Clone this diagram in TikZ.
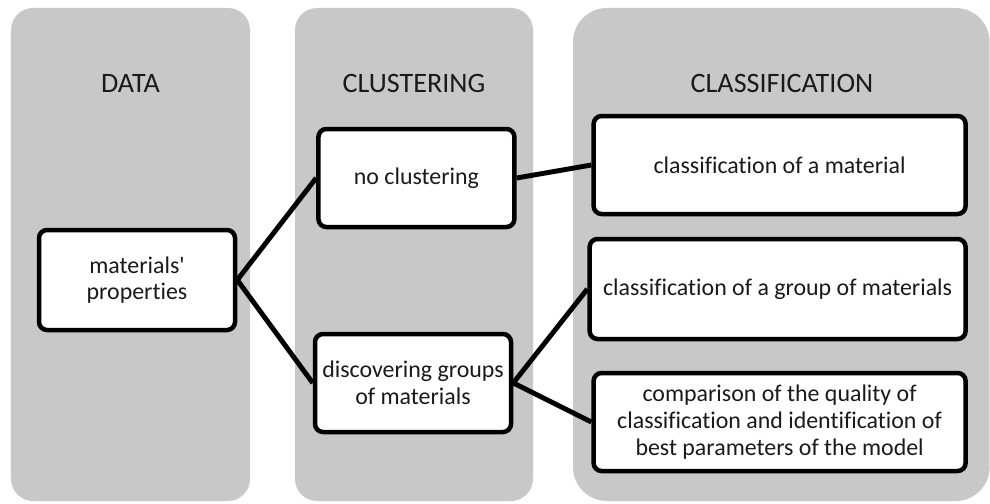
\documentclass[tikz,border=0pt]{standalone}
\usepackage{fontspec}
\setmainfont{Carlito}[Ligatures={NoCommon}]
\usepackage{xcolor}
\definecolor{panelgray}{HTML}{C8C8C8}
\definecolor{textgray}{HTML}{1A1A1A}

\begin{document}
\begin{tikzpicture}[
	head/.style={text=textgray, font=\fontsize{20}{24}\selectfont},
	box/.style={draw=black, fill=white, line width=3.2pt, rounded corners=0.2cm, align=center, text=textgray, font=\fontsize{17}{19}\selectfont, inner sep=0pt},
	link/.style={line width=3.5pt}
	]
	% Parameters
	\def\pbot{0.05}
	\def\ptop{12.375}
	\def\heady{10.5}
	\def\boxh{2.45}
	\def\smallw{4.9}
	\def\largew{9.3}
	
	\useasboundingbox (0,0) rectangle (24.75,12.575);
	
	%panels
	\fill[panelgray, rounded corners=0.55cm] (0.275,\pbot) rectangle (6.25,\ptop);
	\fill[panelgray, rounded corners=0.55cm] (7.375,\pbot) rectangle (13.325,\ptop);
	\fill[panelgray, rounded corners=0.85cm] (14.325,\pbot) rectangle (24.74,\ptop);
	
	%headers
	\node[head] (hdata) at (3.26,\heady) {DATA};
	\node[head] (hclust) at (10.35,\heady) {CLUSTERING};
	\node[head] (hclass) at (19.55,\heady) {CLASSIFICATION};
	
	%boxes
	\node[box, minimum width=\smallw cm, minimum height=2.5cm] (mp) at (3.425,5.575) {materials\textquotesingle\\properties};
	\node[box, minimum width=\smallw cm, minimum height=\boxh cm] (nc) at (10.41,8.125) {no clustering};
	\node[box, minimum width=\smallw cm, minimum height=\boxh cm] (dg) at (10.325,3.0) {discovering groups\\of materials};
	\node[box, minimum width=\largew cm, minimum height=\boxh cm] (cm) at (19.49,8.45) {classification of a material};
	\node[box, minimum width=9.4cm, minimum height=2.5cm] (cg) at (19.44,5.35) {classification of a group of materials};
	\node[box, minimum width=\largew cm, minimum height=\boxh cm] (cq) at (19.49,2.025) {comparison of the quality of\\classification and identification of\\best parameters of the model};
	
	%links
	\draw[link] (mp.east) -- (nc.west);
	\draw[link] (mp.east) -- (dg.west);
	\draw[link] (nc.east) -- (cm.west);
	\draw[link] (dg.east) -- (cg.west);
	\draw[link] (dg.east) -- (cq.west);
	
\end{tikzpicture}
\end{document}
